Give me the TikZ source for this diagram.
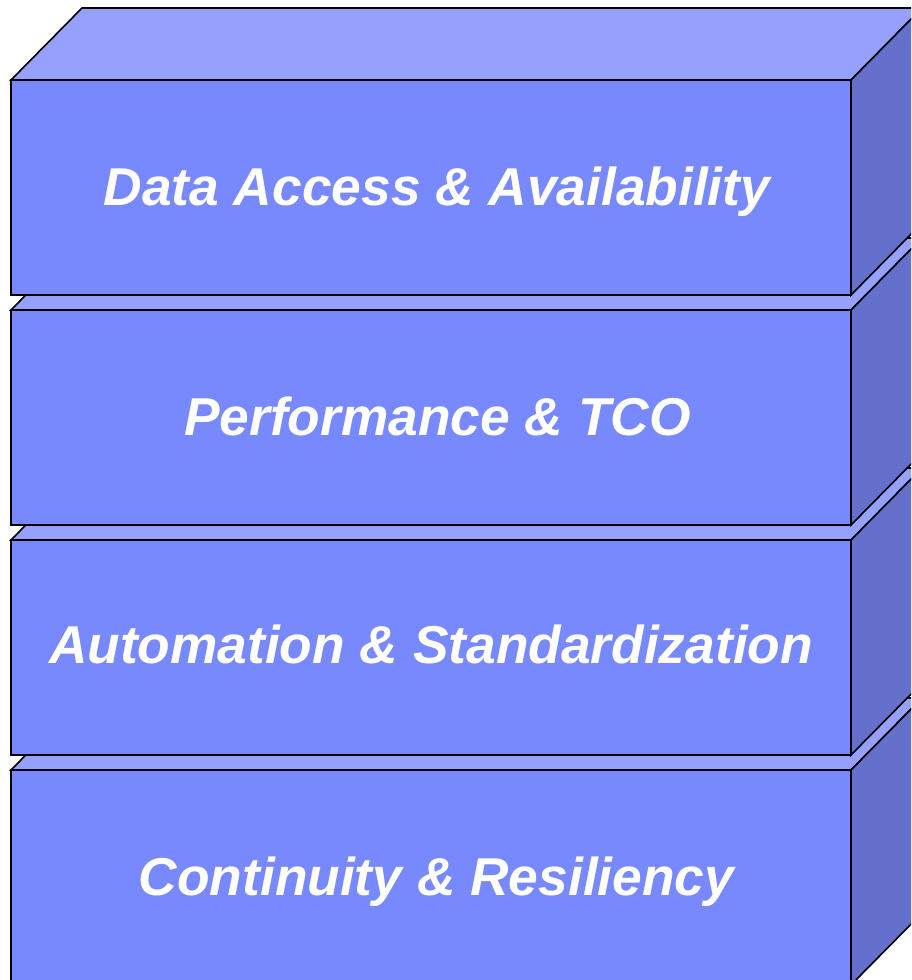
\documentclass[tikz,border=0pt]{standalone}
\usepackage{fontspec}
\setmainfont{Liberation Sans}
\usepackage{xcolor}
\definecolor{frontblue}{RGB}{119,137,252}
\definecolor{topblue}{RGB}{150,161,253}
\definecolor{sideblue}{RGB}{100,112,204}

\begin{document}
\begin{tikzpicture}[x=1pt, y=-1pt,
  face/.style={draw=black, line width=1.6pt, line join=miter},
  layertext/.style={text=white, font=\fontsize{53.3}{60}\selectfont\bfseries\itshape, anchor=base, inner sep=0pt}
]

\useasboundingbox (0,0) rectangle (911,980);
\clip (0,0) rectangle (911,980);

% --- Ebenen von unten nach oben, damit die obere Box die untere verdeckt ---
\foreach \i/\xt/\yb/\txt in {3/436.5/125/Continuity \& Resiliency,
                             2/431/123/Automation \& Standardization,
                             1/437.5/125/Performance \& TCO,
                             0/437/125/Data Access \& Availability} {
  \pgfmathsetmacro\ytop{80+230*\i}
  \pgfmathsetmacro\ybot{\ytop+215}
  % Vorderseite
  \fill[frontblue] (11,\ytop) rectangle (851,\ybot);
  % Oberseite
  \filldraw[face, fill=topblue] (11,\ytop) -- (82,\ytop-72) -- (922,\ytop-72) -- (851,\ytop) -- cycle;
  % rechte Seite
  \filldraw[face, fill=sideblue] (851,\ytop) -- (922,\ytop-72) -- (922,\ybot-72) -- (851,\ybot) -- cycle;
  \draw[face] (11,\ytop) rectangle (851,\ybot);
  \node[layertext] (layer\i) at (\xt,\ytop+\yb) {\txt};
}
\end{tikzpicture}
\end{document}
